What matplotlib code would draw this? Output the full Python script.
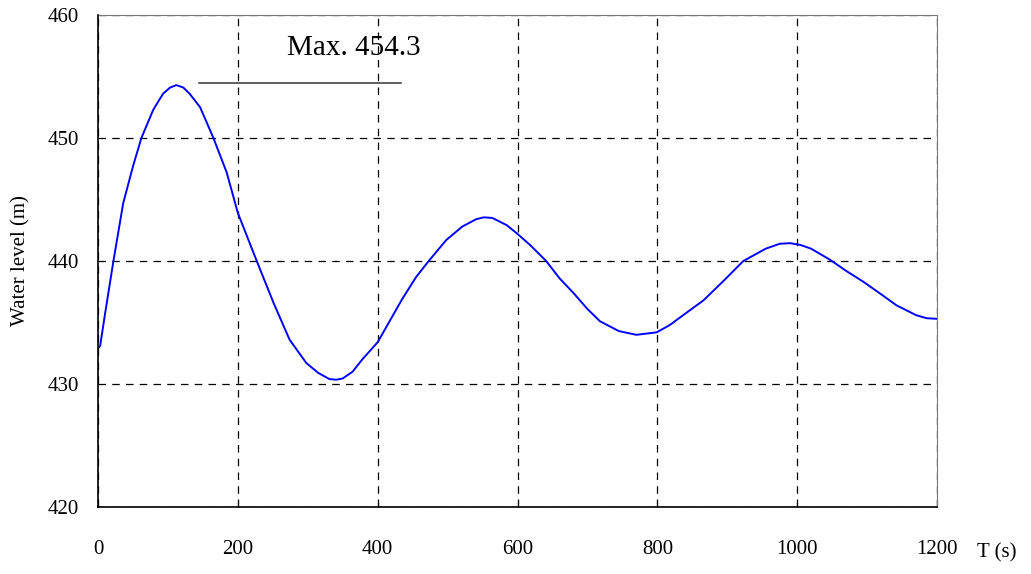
"""Water level oscillation over time"""

from matplotlib import pyplot as plt

# time (s) and water level (m)
t_s = [0, 3, 10, 22, 36, 50, 62, 79, 93, 103, 112, 122, 131, 146, 165, 184, 200, 227,
       251, 274, 298, 315, 331, 341, 350, 364, 378, 400, 416, 435, 455, 473, 498, 521,
       541, 552, 564, 585, 600, 618, 641, 660, 680, 700, 718, 745, 770, 799, 818, 837,
       866, 895, 923, 955, 975, 990, 1005, 1020, 1047, 1070, 1095, 1120, 1142, 1170,
       1185, 1200]
level = [432.9, 433.1, 435.7, 440.0, 444.7, 447.7, 450.0, 452.3, 453.6, 454.1, 454.3,
         454.1, 453.6, 452.5, 450.0, 447.2, 443.9, 440.0, 436.6, 433.6, 431.7, 430.9,
         430.4, 430.35, 430.45, 431.0, 432.0, 433.4, 435.0, 436.9, 438.7, 440.0, 441.7,
         442.8, 443.4, 443.55, 443.5, 442.9, 442.2, 441.3, 440.0, 438.6, 437.4, 436.1,
         435.1, 434.3, 434.0, 434.2, 434.8, 435.6, 436.8, 438.4, 440.0, 441.0, 441.4,
         441.45, 441.3, 441.0, 440.1, 439.2, 438.3, 437.3, 436.4, 435.6, 435.35, 435.3]

xticks = [0, 200, 400, 600, 800, 1000, 1200]
yticks = [420, 430, 440, 450, 460]

plt.rcParams['font.family'] = ['Liberation Serif', 'DejaVu Serif']

fig = plt.figure(figsize=(10.31, 5.74), dpi=100)
ax = fig.add_axes([0.0951, 0.1167, 0.8137, 0.8572])

ax.plot(t_s, level, color='#0000ff', linewidth=1.4)

# max marker line and label
ax.plot([145, 433], [454.5, 454.5], color='#333333', linewidth=1.1)
ax.text(270, 457.3, 'Max. 454.3', fontsize=21, va='center', ha='left')

ax.set_xlim(0, 1200)
ax.set_ylim(420, 460)
ax.set_xticks(xticks)
ax.set_yticks(yticks)
ax.tick_params(axis='x', direction='in', length=6, pad=24, labelsize=15)
ax.tick_params(axis='y', direction='in', length=0, pad=14, labelsize=15)
ax.grid(True, color='black', linestyle=(0, (6, 5)), linewidth=0.9)

for side in ['top', 'right']:
    ax.spines[side].set_color('#777777')
for side in ['left', 'bottom']:
    ax.spines[side].set_color('black')
    ax.spines[side].set_linewidth(1.2)
    ax.spines[side].set_zorder(3)

ax.set_ylabel('Water level (m)', fontsize=15, labelpad=12)
fig.text(0.948, 0.037, 'T (s)', fontsize=15, ha='left', va='center')

fig.savefig('out.png', dpi=100)
